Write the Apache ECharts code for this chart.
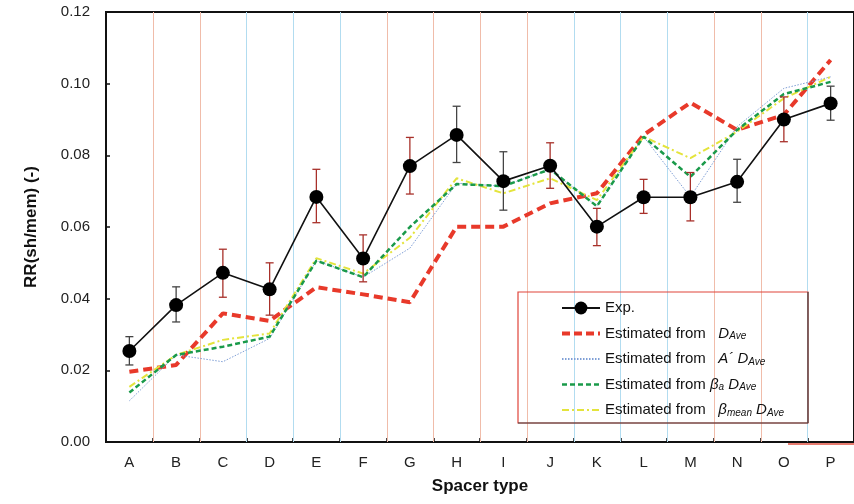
<!DOCTYPE html>
<html>
<head>
<meta charset="utf-8">
<script src="https://cdn.jsdelivr.net/npm/echarts@6/dist/echarts.min.js"></script>
<style>html,body{margin:0;padding:0;background:#fff}#c{width:854px;height:504px}</style>
</head>
<body>
<div id="c"></div>
<script>
var categories = ['A','B','C','D','E','F','G','H','I','J','K','L','M','N','O','P'];
var yTicks = [0, 0.02, 0.04, 0.06, 0.08, 0.10, 0.12];
var expValues   = [0.0254,0.0382,0.0472,0.0426,0.0684,0.0512,0.0770,0.0857,0.0728,0.0771,0.0601,0.0683,0.0683,0.0726,0.0900,0.0945];
var expLow      = [0.0215,0.0335,0.0404,0.0354,0.0612,0.0447,0.0692,0.0780,0.0647,0.0708,0.0548,0.0638,0.0617,0.0669,0.0838,0.0898];
var expHigh     = [0.0294,0.0433,0.0538,0.0500,0.0761,0.0578,0.0850,0.0937,0.0810,0.0835,0.0652,0.0733,0.0752,0.0789,0.0963,0.0993];
var dAveValues  = [0.0196,0.0215,0.0359,0.0338,0.0432,0.0412,0.0390,0.0601,0.0601,0.0666,0.0694,0.0857,0.0947,0.0871,0.0913,0.1066];
var aPrimeValues= [0.0115,0.0243,0.0224,0.0289,0.0506,0.0460,0.0541,0.0722,0.0714,0.0761,0.0658,0.0852,0.0684,0.0880,0.0987,0.1019];
var betaAValues = [0.0138,0.0243,0.0266,0.0294,0.0506,0.0460,0.0600,0.0720,0.0714,0.0761,0.0658,0.0852,0.0740,0.0871,0.0971,0.1005];
var betaMValues = [0.0154,0.0243,0.0285,0.0303,0.0513,0.0470,0.0570,0.0736,0.0694,0.0736,0.0675,0.0852,0.0792,0.0866,0.0959,0.1019];
var errColorKeys = ['g','g','r','r','r','r','r','g','g','r','r','r','r','g','r','g'];
// separator line colours between consecutive categories (A|B ... O|P)
var sepColorKeys = ['s','s','b','b','b','s','s','s','s','b','b','b','s','s','b'];

var SAL = '#f0bcaa', BLU = '#b2dcf0';
var errData = categories.map(function(c,i){ return [i, expLow[i], expHigh[i]]; });
var sepData = sepColorKeys.map(function(k,i){ return [i, yTicks[0], yTicks[yTicks.length-1]]; });

var chart = echarts.init(document.getElementById('c'), null, {renderer:'canvas'});
var FF = 'Liberation Sans, Arial, sans-serif';
var hideSym = {opacity:0};
chart.setOption({
  animation:false,
  backgroundColor:'#fff',
  grid:{left:106, top:12, right:-7, bottom:62, show:true, borderColor:'#111', borderWidth:2, backgroundColor:'transparent'},
  xAxis:{
    type:'category', data:categories, boundaryGap:true,
    name:'Spacer type', nameLocation:'middle', nameGap:36,
    nameTextStyle:{fontSize:17, fontWeight:'bold', color:'#111', fontFamily:FF},
    axisLine:{lineStyle:{color:'#111', width:2}},
    axisTick:{show:true, inside:true, length:4, lineStyle:{color:'#111', width:1.5}},
    axisLabel:{fontSize:15, color:'#222', margin:13, fontFamily:FF},
    splitLine:{show:false}
  },
  yAxis:{
    type:'value', min:yTicks[0], max:yTicks[yTicks.length-1], interval:0.02,
    name:'RR(sh/mem) (-)', nameLocation:'middle', nameGap:66, nameRotate:90,
    nameTextStyle:{fontSize:17, fontWeight:'bold', color:'#111', fontFamily:FF},
    axisLine:{show:true, lineStyle:{color:'#111', width:2}},
    axisTick:{show:true, inside:true, length:4, lineStyle:{color:'#111', width:1.5}},
    axisLabel:{fontSize:15, color:'#222', margin:16, fontFamily:FF, formatter:function(v){return v.toFixed(2);}},
    splitLine:{show:false}
  },
  legend:{
    orient:'vertical', left:555, top:295, itemWidth:38, itemHeight:16, itemGap:9.5,
    textStyle:{fontSize:15, color:'#111', fontFamily:FF, lineHeight:16,
      rich:{
        it:{fontSize:15, fontStyle:'italic', color:'#111', fontFamily:FF, lineHeight:16},
        sub:{fontSize:10, fontStyle:'italic', color:'#111', fontFamily:FF, lineHeight:16, verticalAlign:'bottom', padding:[6,0,0,0]}
      }},
    data:[
      {name:'Exp.'},
      {name:'D', itemStyle:hideSym, lineStyle:{width:4, type:[8,4]}},
      {name:'A', itemStyle:hideSym},
      {name:'Ba', itemStyle:hideSym, lineStyle:{width:2.5}},
      {name:'Bm', itemStyle:hideSym, lineStyle:{width:2}}
    ],
    formatter:function(n){
      if(n==='Exp.') return 'Exp.';
      if(n==='D') return 'Estimated from   {it|D}{sub|Ave}';
      if(n==='A') return 'Estimated from   {it|A\u00b4 D}{sub|Ave}';
      if(n==='Ba') return 'Estimated from {it|\u03b2}{sub|a}{it| D}{sub|Ave}';
      return 'Estimated from   {it|\u03b2}{sub|mean}{it| D}{sub|Ave}';
    }
  },
  graphic:[
    {type:'rect', shape:{x:518, y:292, width:290, height:131}, style:{fill:'transparent', stroke:'#e0443a', lineWidth:1.2}, z:100},
    {type:'line', shape:{x1:518, y1:423, x2:808, y2:423}, style:{stroke:'#444', lineWidth:1.2}, z:101},
    {type:'line', shape:{x1:808, y1:292, x2:808, y2:423}, style:{stroke:'#444', lineWidth:1.2}, z:101},
    {type:'line', shape:{x1:788, y1:444, x2:854, y2:444}, style:{stroke:'#e05040', lineWidth:1.5}, z:101}
  ],
  series:[
    {name:'sep', type:'custom', data:sepData, z:1, silent:true, encode:{x:0, y:[1,2]},
     renderItem:function(params, api){
       var a = api.coord([api.value(0), api.value(1)]);
       var b = api.coord([api.value(0), api.value(2)]);
       var half = api.size([1,0])[0]/2;
       var x = Math.round(a[0] + half) + 0.5;
       var col = sepColorKeys[params.dataIndex]==='s' ? SAL : BLU;
       return {type:'line', shape:{x1:x, y1:a[1], x2:x, y2:b[1]}, style:{stroke:col, lineWidth:1}};
     }},
    {name:'D', type:'line', data:dAveValues, symbol:'none', z:3,
     lineStyle:{color:'#e8392a', width:4, type:[9,5]}, itemStyle:{color:'#e8392a'}},
    {name:'A', type:'line', data:aPrimeValues, symbol:'none', z:3,
     lineStyle:{color:'#7f9fd6', width:1, type:[1.5,1.5]}, itemStyle:{color:'#7f9fd6'}},
    {name:'Bm', type:'line', data:betaMValues, symbol:'none', z:3,
     lineStyle:{color:'#e4e43c', width:2, type:[7,3,2,3]}, itemStyle:{color:'#e4e43c'}},
    {name:'Ba', type:'line', data:betaAValues, symbol:'none', z:4,
     lineStyle:{color:'#1a9a4a', width:2.5, type:[5,3]}, itemStyle:{color:'#1a9a4a'}},
    {name:'err', type:'custom', data:errData, z:5, encode:{x:0, y:[1,2]},
     renderItem:function(params, api){
       var lo = api.coord([api.value(0), api.value(1)]);
       var hi = api.coord([api.value(0), api.value(2)]);
       var col = errColorKeys[params.dataIndex]==='r' ? '#a8302a' : '#444';
       var st = {stroke:col, lineWidth:1.3};
       return {type:'group', children:[
         {type:'line', shape:{x1:lo[0], y1:lo[1], x2:hi[0], y2:hi[1]}, style:st},
         {type:'line', shape:{x1:lo[0]-4, y1:lo[1], x2:lo[0]+4, y2:lo[1]}, style:st},
         {type:'line', shape:{x1:hi[0]-4, y1:hi[1], x2:hi[0]+4, y2:hi[1]}, style:st}
       ]};
     }},
    {name:'Exp.', type:'line', data:expValues, symbol:'circle', symbolSize:14, z:6,
     lineStyle:{color:'#111', width:1.6}, itemStyle:{color:'#000'}}
  ]
});
</script>
</body>
</html>
